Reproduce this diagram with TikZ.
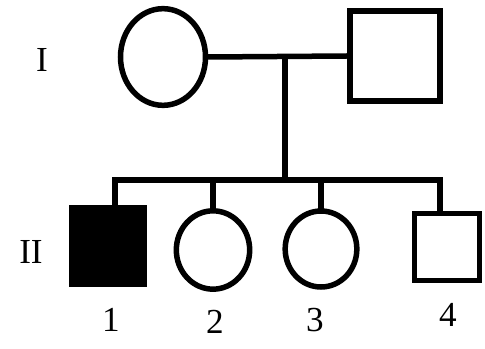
\documentclass[tikz,border=0pt]{standalone}
\usepackage{fontspec}
\setmainfont{Liberation Serif}
\usetikzlibrary{positioning,shapes.geometric}
\tikzset{
 male/.style={draw,rectangle,line width=1.65mm,inner sep=0pt},
 female/.style={draw,ellipse,line width=1.65mm,inner sep=0pt},
 affected/.style={male,fill=black},
 link/.style={line width=1.65mm,line cap=rect},
 tag/.style={font=\fontsize{30}{36}\selectfont,inner sep=0pt}
}
\begin{document}
\begin{tikzpicture}[x=0.03cm,y=-0.03cm]
\useasboundingbox (0,0) rectangle (485,349);
% Generation I
\node[female,minimum width=2.55cm,minimum height=2.9cm] (f1) at (163,57) {};
\node[male,minimum width=2.7cm,minimum height=2.7cm] (m1) at (395,56) {};
\coordinate (mate) at (285,59);
\coordinate (sib) at (285,180);
\draw[link] (f1.east) -- (m1.west);
\draw[link] (mate) -- (sib);
% Generation II
\node[affected,minimum width=2.2cm,minimum height=2.3cm] (a1) at (108,246) {};
\node[female,minimum width=2.2cm,minimum height=2.35cm] (c2) at (213,250) {};
\node[female,minimum width=2.15cm,minimum height=2.28cm] (c3) at (321,249) {};
\node[male,minimum width=1.95cm,minimum height=2cm] (s4) at (447,247) {};
\coordinate (sibL) at (115,180);
\coordinate (sibR) at (440,180);
\draw[link] (sibL) -- (sibR);
\draw[link] (sibL) -- (sibL |- a1.north);
\draw[link] (sibR) -- (sibR |- s4.north);
\foreach \n in {c2,c3}
 \draw[link] (\n.north) -- (\n.north |- sib);
% Labels
\node[tag] (gI) at (42,60) {I};
\node[tag] (gII) at (31,252) {II};
\node[tag] (n1) at (111,320) {1};
\node[tag] (n2) at (215,322) {2};
\node[tag] (n3) at (315,320) {3};
\node[tag] (n4) at (448,315) {4};
\end{tikzpicture}
\end{document}
